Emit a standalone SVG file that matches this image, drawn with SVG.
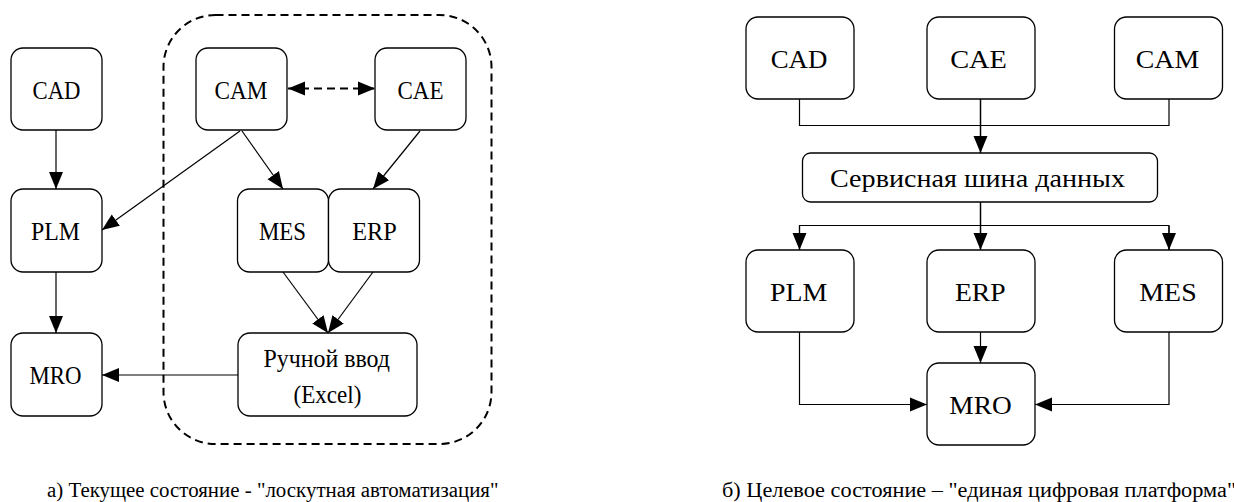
<svg xmlns="http://www.w3.org/2000/svg" width="1234" height="502" viewBox="0 0 1234 502">
<defs>
<style>
.node rect{fill:#fff;stroke:#000;stroke-width:1.3}
.c{fill:none;stroke:#000;stroke-width:1.2}
.cb{fill:none;stroke:#000;stroke-width:1.5}
</style>
<marker id="ah" markerUnits="userSpaceOnUse" markerWidth="18" markerHeight="16" viewBox="0 0 18 16" refX="17" refY="8" orient="auto">
<path d="M0,1 L17,8 L0,15 Z" fill="#000"/>
</marker>
<marker id="ahs" markerUnits="userSpaceOnUse" markerWidth="18" markerHeight="16" viewBox="0 0 18 16" refX="1" refY="8" orient="auto">
<path d="M18,1 L1,8 L18,15 Z" fill="#000"/>
</marker>
</defs>
<rect width="1234" height="502" fill="#fff"/>

<g id="group-a">
<rect x="163.5" y="15" width="328" height="429" rx="52" fill="none" stroke="#000" stroke-width="2" stroke-dasharray="8,5"/>
</g>

<g id="connectors">
<line class="c" x1="56" y1="130" x2="56" y2="189" marker-end="url(#ah)"/>
<line class="c" x1="56" y1="272" x2="56" y2="333" marker-end="url(#ah)"/>
<line class="c" x1="240" y1="131" x2="102" y2="230" marker-end="url(#ah)"/>
<line class="c" x1="242" y1="131" x2="283" y2="189" marker-end="url(#ah)"/>
<line class="c" x1="420" y1="131" x2="373" y2="189" marker-end="url(#ah)"/>
<line x1="288" y1="88.5" x2="375" y2="88.5" stroke="#000" stroke-width="2" stroke-dasharray="8,5" marker-start="url(#ahs)" marker-end="url(#ah)"/>
<line class="c" x1="283" y1="272" x2="328" y2="333" marker-end="url(#ah)"/>
<line class="c" x1="373" y1="272" x2="328" y2="333" marker-end="url(#ah)"/>
<line class="c" x1="238" y1="375" x2="102" y2="375" marker-end="url(#ah)"/>

<polyline class="c" points="799.5,99 799.5,125.5 1169,125.5 1169,99"/>
<line class="cb" x1="980.5" y1="99" x2="980.5" y2="153" marker-end="url(#ah)"/>
<line class="cb" x1="980.5" y1="202" x2="980.5" y2="250" marker-end="url(#ah)"/>
<polyline class="c" points="799.5,250 799.5,225.5 1169,225.5 1169,250"/>
<line class="c" x1="799.5" y1="226" x2="799.5" y2="250" marker-end="url(#ah)"/>
<line class="c" x1="1169" y1="226" x2="1169" y2="250" marker-end="url(#ah)"/>
<line class="c" x1="980.5" y1="332" x2="980.5" y2="363" marker-end="url(#ah)"/>
<polyline class="c" points="799.5,332 799.5,404.5 927,404.5" marker-end="url(#ah)"/>
<polyline class="c" points="1169,332 1169,404.5 1035,404.5" marker-end="url(#ah)"/>
</g>

<g font-family="Liberation Serif" font-size="26" text-anchor="middle" fill="#000">
<g id="a-cad" class="node"><rect x="11" y="48" width="91" height="82" rx="12"/><text x="56.5" y="98.5" textLength="48" lengthAdjust="spacingAndGlyphs">CAD</text></g>
<g id="a-plm" class="node"><rect x="11" y="189" width="91" height="83" rx="12"/><text x="55.5" y="240" textLength="49" lengthAdjust="spacingAndGlyphs">PLM</text></g>
<g id="a-mro" class="node"><rect x="11" y="333" width="91" height="83" rx="12"/><text x="55.5" y="384" textLength="52" lengthAdjust="spacingAndGlyphs">MRO</text></g>
<g id="a-cam" class="node"><rect x="196" y="48" width="91" height="82" rx="12"/><text x="241" y="98.5" textLength="53" lengthAdjust="spacingAndGlyphs">CAM</text></g>
<g id="a-cae" class="node"><rect x="375" y="48" width="91" height="82" rx="12"/><text x="420.5" y="98.5" textLength="46" lengthAdjust="spacingAndGlyphs">CAE</text></g>
<g id="a-mes" class="node"><rect x="237.5" y="189" width="91" height="83" rx="12"/><text x="282.5" y="240" textLength="47" lengthAdjust="spacingAndGlyphs">MES</text></g>
<g id="a-erp" class="node"><rect x="328.5" y="189" width="91" height="83" rx="12"/><text x="374.5" y="240" textLength="44.5" lengthAdjust="spacingAndGlyphs">ERP</text></g>
<g id="a-manual" class="node"><rect x="238" y="333" width="179" height="83" rx="12"/><text x="326.7" y="367" textLength="126.5" lengthAdjust="spacingAndGlyphs">Ручной ввод</text><text x="327.5" y="403" textLength="68" lengthAdjust="spacingAndGlyphs">(Excel)</text></g>

<g id="b-cad" class="node"><rect x="746" y="17" width="108" height="82" rx="12"/><text x="799" y="67.5" textLength="56.7" lengthAdjust="spacingAndGlyphs">CAD</text></g>
<g id="b-cae" class="node"><rect x="927" y="17" width="108" height="82" rx="12"/><text x="978.5" y="67.5" textLength="56.7" lengthAdjust="spacingAndGlyphs">CAE</text></g>
<g id="b-cam" class="node"><rect x="1114.5" y="17" width="108" height="82" rx="12"/><text x="1167.5" y="67.5" textLength="63.3" lengthAdjust="spacingAndGlyphs">CAM</text></g>
<g id="b-bus" class="node"><rect x="802.5" y="153" width="355" height="49" rx="8"/><text x="977.5" y="187" textLength="295" lengthAdjust="spacingAndGlyphs">Сервисная шина данных</text></g>
<g id="b-plm" class="node"><rect x="746" y="250" width="108" height="82" rx="12"/><text x="798.7" y="300.5" textLength="57.3" lengthAdjust="spacingAndGlyphs">PLM</text></g>
<g id="b-erp" class="node"><rect x="927" y="250" width="108" height="82" rx="12"/><text x="980.3" y="300.5" textLength="50.7" lengthAdjust="spacingAndGlyphs">ERP</text></g>
<g id="b-mes" class="node"><rect x="1114.5" y="250" width="108" height="82" rx="12"/><text x="1168" y="300.5" textLength="57.3" lengthAdjust="spacingAndGlyphs">MES</text></g>
<g id="b-mro" class="node"><rect x="927" y="363" width="108" height="82" rx="12"/><text x="980.5" y="413.5" textLength="62.3" lengthAdjust="spacingAndGlyphs">MRO</text></g>
</g>

<text font-family="Liberation Serif" font-size="20" x="47" y="497" textLength="451.5" lengthAdjust="spacingAndGlyphs">а) Текущее состояние - "лоскутная автоматизация"</text>
<text font-family="Liberation Serif" font-size="20" x="722" y="497" textLength="514" lengthAdjust="spacingAndGlyphs">б) Целевое состояние – "единая цифровая платформа"</text>
</svg>
